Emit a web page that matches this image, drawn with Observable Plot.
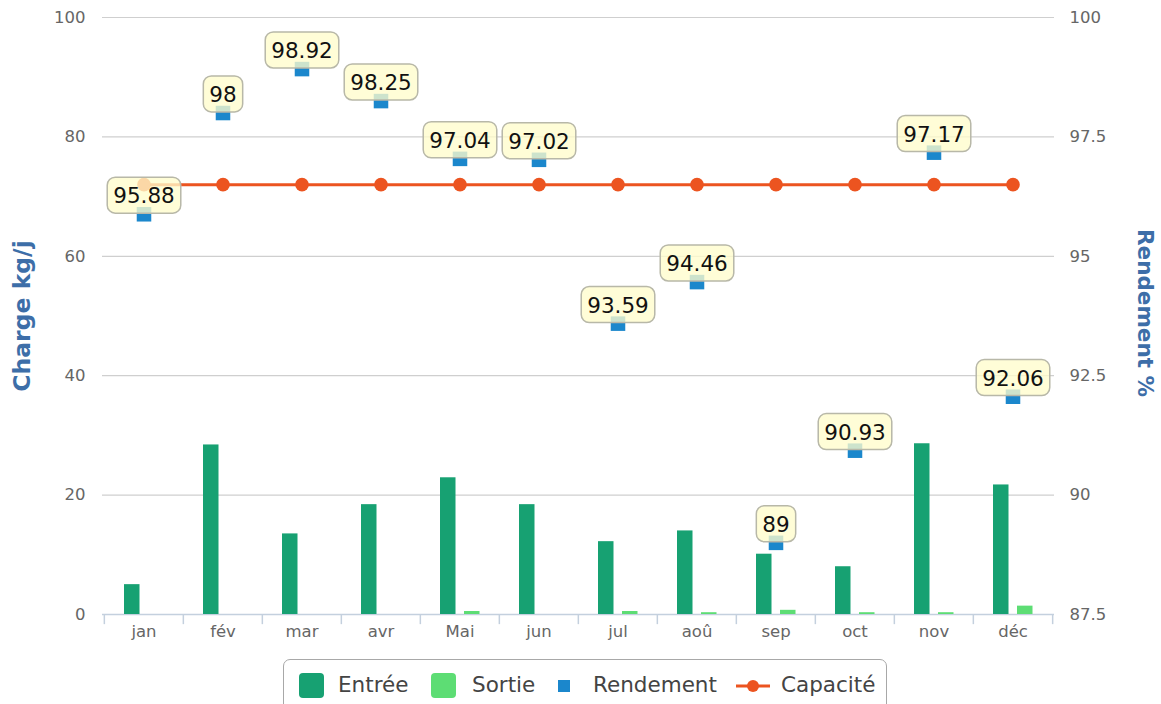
<!DOCTYPE html>
<html>
<head>
<meta charset="utf-8">
<script src="https://cdn.jsdelivr.net/npm/d3@7"></script>
<script src="https://cdn.jsdelivr.net/npm/@observablehq/plot@0.6"></script>
<style>
  html, body { margin: 0; padding: 0; background: #fff; }
  #wrap { position: relative; width: 1161px; height: 704px; overflow: hidden; font-family: "DejaVu Sans", sans-serif; }
  #legend { position: absolute; left: 283px; top: 659px; width: 604px; height: 60px; border: 1.5px solid #a8a8a8; border-radius: 7px; box-sizing: border-box; }
  .li { position: absolute; top: 12px; font-size: 21.5px; color: #444; line-height: 26px; }
  .sw { position: absolute; }
</style>
</head>
<body>
<div id="wrap">
  <div id="chart"></div>
  <div id="legend"></div>
</div>
<script>
const months = ["jan", "fév", "mar", "avr", "Mai", "jun", "jul", "aoû", "sep", "oct", "nov", "déc"];
const entree = [5.0, 28.4, 13.5, 18.4, 22.9, 18.4, 12.2, 14.0, 10.1, 8.0, 28.6, 21.7];
const sortie = [0, 0, 0, 0, 0.5, 0, 0.5, 0.3, 0.7, 0.3, 0.3, 1.4];
const rendement = [95.88, 98, 98.92, 98.25, 97.04, 97.02, 93.59, 94.46, 89, 90.93, 97.17, 92.06];
const capacite = [96.5, 96.5, 96.5, 96.5, 96.5, 96.5, 96.5, 96.5, 96.5, 96.5, 96.5, 96.5];
const leftTicks = [0, 20, 40, 60, 80, 100];
const rightTicks = [87.5, 90, 92.5, 95, 97.5, 100];
const rendLabels = ["95.88", "98", "98.92", "98.25", "97.04", "97.02", "93.59", "94.46", "89", "90.93", "97.17", "92.06"];

const C_ENTREE = "#17a172", C_SORTIE = "#5ddd74", C_REND = "#1b87cc", C_CAP = "#ec5420";
const TITLE = "#3d6ea8";

// map Rendement (87.5..100) onto left scale (0..100)
const toLeft = r => (r - 87.5) * 8;

const rows = months.map((m, i) => ({
  month: m, entree: entree[i], sortie: sortie[i],
  rend: toLeft(rendement[i]), cap: toLeft(capacite[i]), label: rendLabels[i]
}));

const plot = Plot.plot({
  width: 1161,
  height: 656,
  marginLeft: 102,
  marginRight: 107,
  marginTop: 17,
  marginBottom: 42,
  style: { fontFamily: "DejaVu Sans, sans-serif", background: "#fff", overflow: "visible" },
  x: { domain: months, padding: 0, axis: null, label: null },
  y: { domain: [0, 100], axis: null, label: null },
  marks: [
    Plot.gridY([20, 40, 60, 80, 100], { stroke: "#cfcfcf", strokeOpacity: 1, strokeWidth: 1.2 }),
    Plot.ruleY([0], { stroke: "#c4d0de", strokeWidth: 1.5 }),
    Plot.ruleX(months, { x: d => d, dx: -79.33 / 2, y1: 0, y2: -1.7, stroke: "#c4d0de", strokeWidth: 1.5 }),
    Plot.ruleX([months[11]], { x: d => d, dx: 79.33 / 2, y1: 0, y2: -1.7, stroke: "#c4d0de", strokeWidth: 1.5 }),
    Plot.axisY(leftTicks, { anchor: "left", tickSize: 0, tickPadding: 17, fontSize: 16.5, fill: "#666", label: null, tickFormat: d => String(d) }),
    Plot.axisY(leftTicks, { anchor: "right", tickSize: 0, tickPadding: 15, fontSize: 16.5, fill: "#666", label: null, tickFormat: d => String(rightTicks[leftTicks.indexOf(d)]) }),
    Plot.axisX(months, { anchor: "bottom", tickSize: 0, tickPadding: 11, fontSize: 16.5, fill: "#666", label: null }),
    Plot.text(["Charge kg/j"], { frameAnchor: "left", textAnchor: "middle", dx: -80, rotate: -90, fontSize: 23.5, fontWeight: "bold", fill: TITLE }),
    Plot.text(["Rendement %"], { frameAnchor: "right", textAnchor: "middle", dx: 90, dy: -3, rotate: 90, fontSize: 21.5, fontWeight: "bold", fill: TITLE }),
    Plot.barY(rows, { x: "month", y: "entree", fill: C_ENTREE, insetLeft: 20, insetRight: 43.5 }),
    Plot.barY(rows, { x: "month", y: "sortie", fill: C_SORTIE, insetLeft: 44, insetRight: 19.5 }),
    Plot.line(rows, { x: "month", y: "cap", stroke: C_CAP, strokeWidth: 3 }),
    Plot.dot(rows, { x: "month", y: "cap", r: 6.8, fill: C_CAP }),
    Plot.dot(rows, { x: "month", y: "rend", symbol: "square", r: 8.2, fill: C_REND }),
    Plot.text(rows, { x: "month", y: "rend", text: "label", dy: -18, fontSize: 21.5, fill: "#111" })
  ]
});
document.getElementById("chart").appendChild(plot);

// Rounded, semi-transparent label boxes behind each value label
const svg = d3.select(plot);
const textGroups = svg.selectAll('g[aria-label="text"]').nodes();
const labelGroup = textGroups[textGroups.length - 1];
d3.select(labelGroup).selectAll("text").each(function () {
  const b = this.getBBox();
  const tr = this.getAttribute("transform");
  d3.select(labelGroup).insert("rect", () => this)
    .attr("transform", tr)
    .attr("x", b.x - 6).attr("y", b.y - 6)
    .attr("width", b.width + 12).attr("height", b.height + 11)
    .attr("rx", 8).attr("ry", 8)
    .attr("fill", "#fffccc").attr("fill-opacity", 0.78)
    .attr("stroke", "#b8b8a8").attr("stroke-width", 1.5);
});

// Legend
const legendItems = [
  { name: "Entrée", type: "bar", color: C_ENTREE },
  { name: "Sortie", type: "bar", color: C_SORTIE },
  { name: "Rendement", type: "square", color: C_REND },
  { name: "Capacité", type: "line", color: C_CAP }
];
const legendX = [15, 147, 274, 452];
const textOff = [39, 41, 35, 45];
const leg = d3.select("#legend");
legendItems.forEach((it, i) => {
  const x0 = legendX[i];
  if (it.type === "bar") {
    leg.append("div").attr("class", "sw").style("left", x0 + "px").style("top", "13px")
      .style("width", "25px").style("height", "25px").style("border-radius", "4px").style("background", it.color);
  } else if (it.type === "square") {
    leg.append("div").attr("class", "sw").style("left", x0 + "px").style("top", "20px")
      .style("width", "12px").style("height", "12px").style("background", it.color);
  } else {
    const s = leg.append("svg").attr("class", "sw").style("left", x0 + "px").style("top", "13px")
      .attr("width", 34).attr("height", 26);
    s.append("line").attr("x1", 0).attr("x2", 34).attr("y1", 13).attr("y2", 13).attr("stroke", it.color).attr("stroke-width", 3);
    s.append("circle").attr("cx", 17).attr("cy", 13).attr("r", 6).attr("fill", it.color);
  }
  leg.append("div").attr("class", "li").style("left", (x0 + textOff[i]) + "px").text(it.name);
});
</script>
</body>
</html>
